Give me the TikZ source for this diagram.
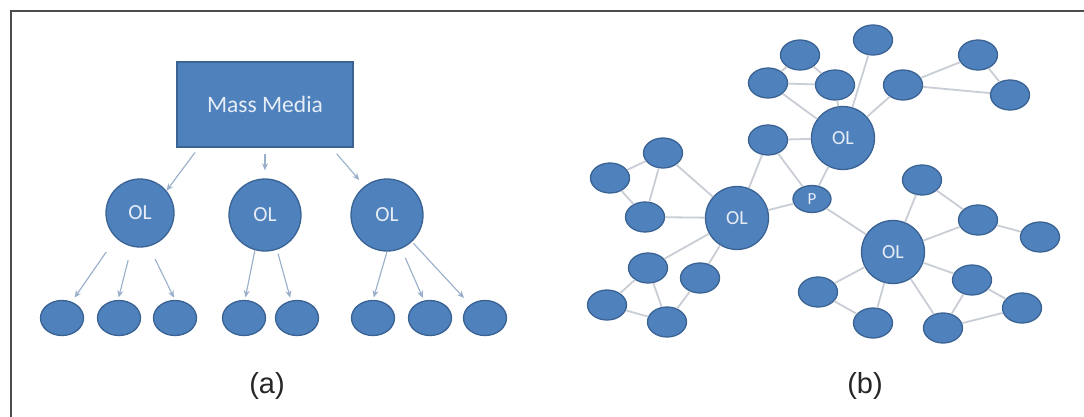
\documentclass[tikz,border=0pt]{standalone}
\usepackage{fontspec}
\setmainfont{Carlito}
\newfontfamily\arialfont{Liberation Sans}
\usetikzlibrary{shapes.geometric,arrows.meta}
\definecolor{nodeblue}{HTML}{4F81BD}
\definecolor{nodeedge}{HTML}{3A6394}
\definecolor{arrowgray}{HTML}{98AECB}
\definecolor{linkgray}{HTML}{C9CED6}
\definecolor{labelwhite}{HTML}{E6EDF6}
\tikzset{
  blob/.style={fill=nodeblue, draw=nodeedge, line width=1.3pt, inner sep=0pt, text=labelwhite},
  mediabox/.style={blob, rectangle, minimum width=176pt, minimum height=85pt, font=\fontsize{23.5}{25}\selectfont},
  olbig/.style={blob, circle, minimum size=70pt, font=\fontsize{21.5}{23}\selectfont},
  leafa/.style={blob, ellipse, minimum width=43pt, minimum height=35pt},
  olnet/.style={blob, circle, minimum size=63pt, font=\fontsize{20}{22}\selectfont},
  leafb/.style={blob, ellipse, minimum width=39pt, minimum height=30pt},
  pnode/.style={blob, ellipse, minimum width=38pt, minimum height=27pt, font=\fontsize{17}{19}\selectfont},
  arr/.style={draw=arrowgray, line width=1.1pt, -{Stealth[length=7pt,width=6pt,open]}},
  link/.style={draw=linkgray, line width=1.8pt},
  caption/.style={font=\arialfont\fontsize{29}{31}\selectfont, text=black!85},
  frameline/.style={draw=black!70, line width=1.8pt}
}
\begin{document}
\begin{tikzpicture}[x=1pt,y=-1pt]
\useasboundingbox (0,0) rectangle (1084,417);
\fill[white] (0,0) rectangle (1084,417);
% frame
\coordinate (fbl) at (11,417);
\coordinate (ftl) at (11,11);
\coordinate (ftr) at (1084,11);
\draw[frameline] (fbl) -- (ftl) -- (ftr);

% ---------- (a) ----------
\node[mediabox] (mm) at (265,104.5) {Mass Media};
\node[olbig, minimum size=68pt] (ol1) at (140,213) {OL};
\node[olbig, minimum size=72pt] (ol2) at (265,215) {OL};
\node[olbig, minimum size=72pt] (ol3) at (387,215) {OL};
\node[leafa] (a1) at (62,318) {};
\node[leafa] (a2) at (119,318) {};
\node[leafa] (a3) at (175,318) {};
\node[leafa] (a4) at (244,318) {};
\node[leafa] (a5) at (297,318) {};
\node[leafa] (a6) at (373,318) {};
\node[leafa] (a7) at (430,318) {};
\node[leafa] (a8) at (485,318) {};

\draw[arr, shorten <=6pt] (mm.213) -- (ol1.40);
\draw[arr, shorten <=6pt, shorten >=8pt] (mm.south) -- (ol2.north);
\draw[arr, shorten <=8pt, shorten >=8pt] (mm.-33) -- (ol3.128);

\draw[arr, shorten <=17pt, shorten >=5pt] (ol1.226) -- (a1.59);
\draw[arr, shorten <=14pt, shorten >=2.5pt] (ol1.256) -- (a2.93);
\draw[arr, shorten <=14pt, shorten >=2.5pt] (ol1.285) -- (a3.90);
\draw[arr, shorten >=2.5pt] (ol2.254) -- (a4.87);
\draw[arr, shorten <=4pt, shorten >=3pt] (ol2.289) -- (a5.109);
\draw[arr, shorten >=2.5pt] (ol3.270) -- (a6.90);
\draw[arr, shorten <=10pt, shorten >=3pt] (ol3.293) -- (a7.109);
\draw[arr, shorten <=2pt, shorten >=9pt] (ol3.313) -- (a8.138);

\node[caption] (capa) at (267,386) {(a)};

% ---------- (b) ----------
\node[olnet] (olt) at (843,138) {OL};
\node[olnet] (oll) at (737,218) {OL};
\node[olnet] (olr) at (893,252) {OL};
\node[pnode] (p) at (812,199) {P};
\node[leafb] (b1) at (800,55) {};
\node[leafb] (b2) at (768,83) {};
\node[leafb] (b3) at (835,85) {};
\node[leafb] (b4) at (873,40) {};
\node[leafb] (b5) at (903,85) {};
\node[leafb] (b6) at (978,55) {};
\node[leafb] (b7) at (1010,95) {};
\node[leafb] (b8) at (768,140) {};
\node[leafb] (b9) at (663,153) {};
\node[leafb] (b10) at (610,178) {};
\node[leafb] (b11) at (645,217) {};
\node[leafb] (b12) at (648,268) {};
\node[leafb] (b13) at (700,278) {};
\node[leafb] (b14) at (607,305) {};
\node[leafb] (b15) at (667,322) {};
\node[leafb] (b16) at (922,180) {};
\node[leafb] (b17) at (978,220) {};
\node[leafb] (b18) at (1040,237) {};
\node[leafb] (b19) at (818,292) {};
\node[leafb] (b20) at (873,323) {};
\node[leafb] (b21) at (972,280) {};
\node[leafb] (b22) at (1022,308) {};
\node[leafb] (b23) at (943,328) {};

\draw[link] (b1) -- (b2);
\draw[link] (b1) -- (b3);
\draw[link] (b2) -- (b3);
\draw[link] (b2) -- (olt);
\draw[link] (b3) -- (olt);
\draw[link] (b4) -- (olt);
\draw[link] (b5) -- (olt);
\draw[link] (b5) -- (b6);
\draw[link] (b5) -- (b7);
\draw[link] (b6) -- (b7);
\draw[link] (b8) -- (olt);
\draw[link] (b8) -- (oll);
\draw[link] (b8) -- (p);
\draw[link] (olt) -- (p);
\draw[link] (p) -- (oll);
\draw[link] (p) -- (olr);
\draw[link] (b9) -- (b10);
\draw[link] (b9) -- (b11);
\draw[link] (b9) -- (oll);
\draw[link] (b10) -- (b11);
\draw[link] (b11) -- (oll);
\draw[link] (b12) -- (oll);
\draw[link] (b13) -- (oll);
\draw[link] (b12) -- (b14);
\draw[link] (b12) -- (b15);
\draw[link] (b14) -- (b15);
\draw[link] (b13) -- (b15);
\draw[link] (b16) -- (olr);
\draw[link] (b16) -- (b17);
\draw[link] (b17) -- (olr);
\draw[link] (b17) -- (b18);
\draw[link] (b19) -- (olr);
\draw[link] (b20) -- (olr);
\draw[link] (b23) -- (olr);
\draw[link] (b21) -- (olr);
\draw[link] (b19) -- (b20);
\draw[link] (b21) -- (b23);
\draw[link] (b21) -- (b22);
\draw[link] (b22) -- (b23);

\node[caption] (capb) at (865,386) {(b)};
\end{tikzpicture}
\end{document}
